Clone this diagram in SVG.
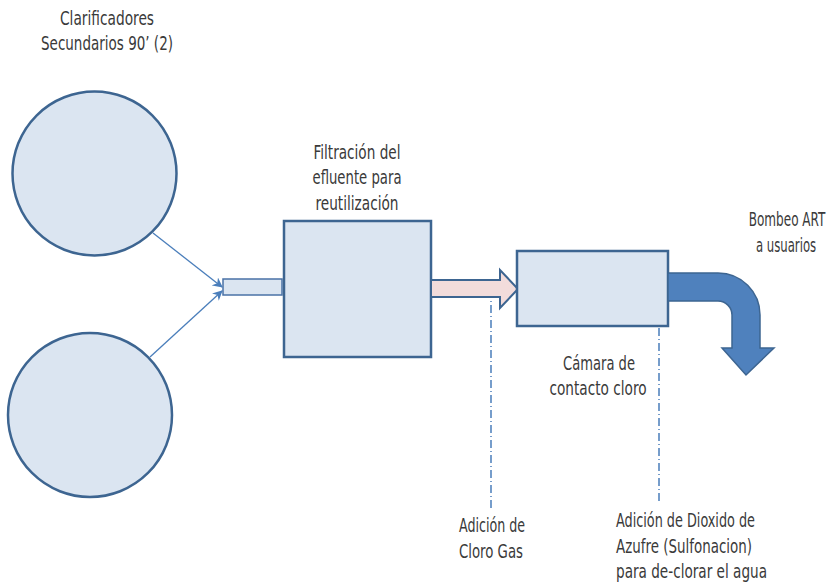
<svg xmlns="http://www.w3.org/2000/svg" width="830" height="584" viewBox="0 0 830 584">
<defs>
<style>
.lbl{font-family:"Liberation Sans Narrow","DejaVu Sans Condensed","DejaVu Sans",sans-serif;font-size:20px;fill:#3a3a3a}
.mid{text-anchor:middle}
.unit{fill:#dbe5f1;stroke:#3d6591;stroke-width:2.5}
.conn{stroke:#4a7ebb;stroke-width:1.3;fill:none}
.dd{stroke:#4a7ebb;stroke-width:1.5;fill:none;stroke-dasharray:8 3 1 3}
</style>
<marker id="ah" viewBox="0 0 10 10" refX="9" refY="5" markerWidth="10" markerHeight="10" markerUnits="userSpaceOnUse" orient="auto">
<path d="M0,0 L10,5 L0,10 L3,5 Z" fill="#4a7ebb"/>
</marker>
<marker id="ah2" viewBox="0 0 10 10" refX="9" refY="5" markerWidth="9" markerHeight="10" markerUnits="userSpaceOnUse" orient="auto">
<path d="M0,0 L10,5 L0,10 Z" fill="#4a7ebb"/>
</marker>
</defs>
<rect width="830" height="584" fill="#ffffff"/>

<g id="connectors">
<line class="conn" x1="153" y1="233" x2="222" y2="287" marker-end="url(#ah)"/>
<line class="conn" x1="150" y1="357" x2="222" y2="291" marker-end="url(#ah)"/>
<line class="dd" x1="491" y1="508" x2="491" y2="289" marker-end="url(#ah2)"/>
<line class="dd" x1="659" y1="501" x2="659" y2="289" marker-end="url(#ah2)"/>
</g>

<g id="clarificador1">
<circle class="unit" cx="94.5" cy="173.5" r="82"/>
</g>
<g id="clarificador2">
<circle class="unit" cx="90" cy="415" r="82"/>
</g>
<g id="label-clarificadores">
<text class="lbl mid" x="107" y="25" textLength="94" lengthAdjust="spacingAndGlyphs">Clarificadores</text>
<text class="lbl mid" x="107" y="50" textLength="132" lengthAdjust="spacingAndGlyphs">Secundarios 90’ (2)</text>
</g>

<g id="tubo">
<rect x="223" y="279" width="59" height="16" fill="#dbe5f1" stroke="#4a72a6" stroke-width="1.5"/>
</g>

<g id="filtracion">
<rect class="unit" x="284" y="221" width="147" height="136"/>
<text class="lbl mid" x="357" y="159" textLength="87" lengthAdjust="spacingAndGlyphs">Filtración del</text>
<text class="lbl mid" x="357" y="184" textLength="89" lengthAdjust="spacingAndGlyphs">efluente para</text>
<text class="lbl mid" x="357" y="210" textLength="83" lengthAdjust="spacingAndGlyphs">reutilización</text>
</g>

<g id="flecha-rosa">
<path d="M431,280 L500,280 L500,270 L518,289 L500,308 L500,297 L431,297 Z" fill="#f2dcdb" stroke="#3d6591" stroke-width="2" stroke-linejoin="miter"/>
</g>

<g id="camara">
<rect class="unit" x="517" y="251" width="151" height="75"/>
<text class="lbl mid" x="599" y="370" textLength="72" lengthAdjust="spacingAndGlyphs">Cámara de</text>
<text class="lbl mid" x="598" y="395" textLength="97" lengthAdjust="spacingAndGlyphs">contacto cloro</text>
</g>

<g id="bombeo">
<path d="M668,273 L718,273 A42,42 0 0 1 760,315 L760,348 L774,348 L746,375 L722,348 L732,348 L732,315 A14,14 0 0 0 718,301 L668,301 Z" fill="#4f81bd" stroke="#3d6591" stroke-width="1.5"/>
<text class="lbl mid" transform="translate(787,226) scale(0.67,1)">Bombeo ART</text>
<text class="lbl mid" transform="translate(786,252) scale(0.65,1)">a usuarios</text>
</g>

<g id="cloro-gas">
<text class="lbl" x="459" y="532" textLength="66" lengthAdjust="spacingAndGlyphs">Adición de</text>
<text class="lbl" x="459" y="558" textLength="64" lengthAdjust="spacingAndGlyphs">Cloro Gas</text>
</g>

<g id="dioxido">
<text class="lbl" x="616" y="527" textLength="139" lengthAdjust="spacingAndGlyphs">Adición de Dioxido de</text>
<text class="lbl" x="616" y="553" textLength="136" lengthAdjust="spacingAndGlyphs">Azufre (Sulfonacion)</text>
<text class="lbl" x="616" y="578" textLength="151" lengthAdjust="spacingAndGlyphs">para de-clorar el agua</text>
</g>
</svg>
